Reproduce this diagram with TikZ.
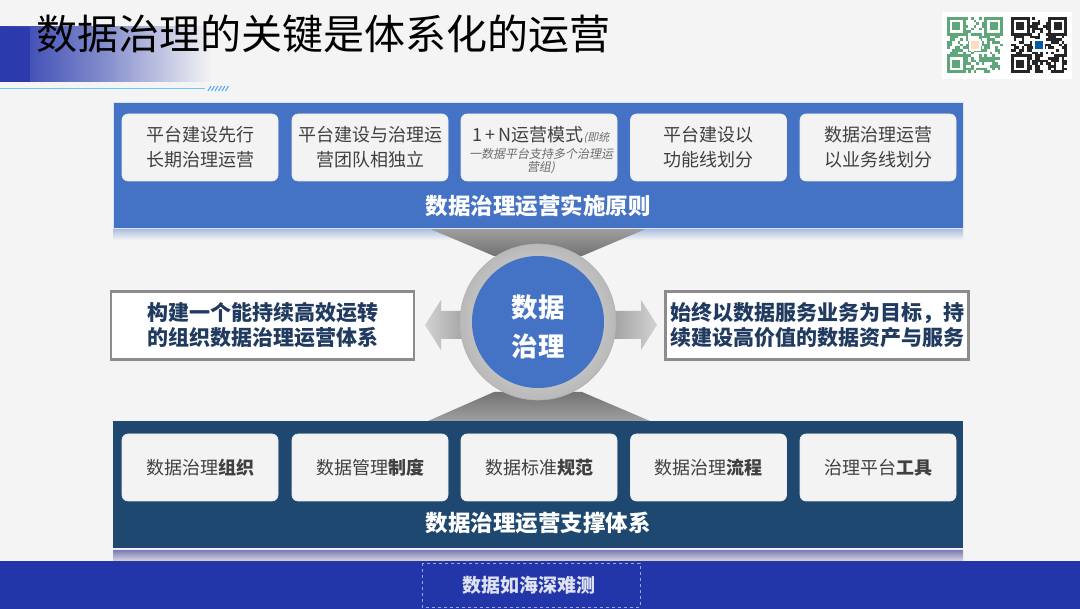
\documentclass[tikz,border=0pt]{standalone}
\usepackage{fontspec}
\setmainfont{Noto Sans CJK SC}
\newfontfamily\cjkit[FakeSlant=0.2]{Noto Sans CJK SC}
\usetikzlibrary{shapes.arrows}
\definecolor{bg}{HTML}{F4F4F4}
\definecolor{pblue}{HTML}{4472C4}
\definecolor{pnavy}{HTML}{1F4870}
\definecolor{boxf}{HTML}{F3F3F3}
\definecolor{tgray}{HTML}{404040}
\definecolor{tnavy}{HTML}{213A5F}
\definecolor{fblue}{HTML}{2236A9}
\definecolor{tblue}{HTML}{2B3BAE}
\definecolor{qrg}{HTML}{5FA67A}
\tikzset{
  ibox/.style={draw=white!85!gray, line width=0.6pt, fill=boxf, rounded corners=6pt, minimum width=156pt, minimum height=67pt, inner sep=0pt, align=center, text=tgray, font=\fontsize{18}{25}\selectfont},
  plabel/.style={text=white, font=\fontsize{22.5}{24}\selectfont\bfseries, inner sep=0pt},
  sidebox/.style={draw=gray!90, line width=2.5pt, fill=white, minimum width=303pt, minimum height=68pt, align=center, text=tnavy, font=\fontsize{21}{25}\selectfont\bfseries, inner sep=0pt},
}
\newcommand{\qrcode}[4]{% x, y, color, seed
  \pgfmathsetseed{#4}
  \foreach \i in {0,...,20}{\foreach \j in {0,...,20}{
    \pgfmathrandominteger{\r}{0}{1}
    \ifnum\r=1 \fill[#3] (#1+\i*2.66, #2+\j*2.66) rectangle ++(2.66,2.66);\fi
  }}
  \foreach \a/\b in {0/0,14/0,0/14}{
    \fill[white] (#1+\a*2.66-0.5, #2+\b*2.66-0.5) rectangle ++(7*2.66+1,7*2.66+1);
    \fill[#3] (#1+\a*2.66, #2+\b*2.66) rectangle ++(7*2.66,7*2.66);
    \fill[white] (#1+\a*2.66+2.66, #2+\b*2.66+2.66) rectangle ++(5*2.66,5*2.66);
    \fill[#3] (#1+\a*2.66+2*2.66, #2+\b*2.66+2*2.66) rectangle ++(3*2.66,3*2.66);
  }
}
\begin{document}
\begin{tikzpicture}[x=1pt,y=-1pt]
\fill[bg] (0,0) rectangle (1080,609);
\useasboundingbox (0,0) rectangle (1080,609);
% title bar
\shade[left color=tblue, right color=bg, middle color=tblue!55!bg] (0,27) rectangle (212,82);
\fill[tblue] (0,27) rectangle (30,82);
\draw[color=blue!35!cyan!60!white, line width=1.5pt] (0,88.5) -- (205,88.5);
\foreach \k in {0,...,5}{\draw[blue!50!cyan!70!white, line width=1pt] (208+\k*3.5,91) -- (211+\k*3.5,86);}
\node[anchor=west, inner sep=0pt, font=\fontsize{41}{44}\selectfont, text=black] (title) at (36,34) {数据治理的关键是体系化的运营};
% QR codes
\fill[white] (942,12) rectangle (1072,79);
\qrcode{947}{17}{qrg}{11}
\qrcode{1011}{17}{black!85}{23}
\fill[white] (969,39) rectangle ++(12,12);
\fill[orange!25] (971,41) rectangle ++(8,8);
\fill[white] (1033,39) rectangle ++(12,12);
\fill[teal!70!blue] (1035,41) rectangle ++(8,8);
% top panel shadow
\shade[top color=pblue!45!bg, bottom color=bg] (113,228) rectangle (963,240);
% hourglass shapes
\shade[top color=gray!75, bottom color=gray!90!black] (428,228) -- (648,228) -- (582,256) -- (494,256) -- cycle;
\shade[top color=gray!90!black, bottom color=gray!75] (494,392) -- (582,392) -- (650,421) -- (428,421) -- cycle;
% top panel
\fill[pblue] (113,102) rectangle (963,228);
\draw[white!80!pblue, line width=0.8pt] (113,102) rectangle (963,228);
\node[ibox] (p1) at (200,147.5) {平台建设先行\\长期治理运营};
\node[ibox] (p2) at (370,147.5) {平台建设与治理运\\营团队相独立};
\node[ibox] (p3) at (539,147.5) {};
\node[inner sep=0pt, align=center, text=tgray] (p3t) at (541,150) {{\fontsize{18}{20}\selectfont 1\,+\,N运营模式}{\cjkit\fontsize{11}{13}\selectfont\color{gray!85!black}(即统}\\[3pt]{\cjkit\fontsize{12}{16}\selectfont\color{gray!85!black}一数据平台支持多个治理运}\\[1pt]{\cjkit\fontsize{12}{16}\selectfont\color{gray!85!black}营组)}};
\node[ibox] (p4) at (708.5,147.5) {平台建设以\\功能线划分};
\node[ibox] (p5) at (878,147.5) {数据治理运营\\以业务线划分};
\node[plabel] (ptitle) at (538,206) {数据治理运营实施原则};
% side arrows
\shade[left color=gray!35, right color=gray!75] (425,325) -- (441,300) -- (441,311) -- (468,311) -- (468,339) -- (441,339) -- (441,350) -- cycle;
\shade[left color=gray!75, right color=gray!35] (657,325) -- (641,300) -- (641,311) -- (610,311) -- (610,339) -- (641,339) -- (641,350) -- cycle;
% circle
\shade[inner color=gray!15, outer color=gray!55] (538,322) circle (78);
\draw[gray!60, line width=0.6pt] (538,322) circle (78);
\fill[pblue] (538,322) circle (66);
\node[text=white, align=center, font=\fontsize{26.5}{39}\selectfont\bfseries, inner sep=0pt] (core) at (538,327) {数据\\治理};
% side boxes
\node[sidebox] (lbox) at (262.5,325.5) {构建一个能持续高效运转\\的组织数据治理运营体系};
\node[sidebox] (rbox) at (817,325.5) {始终以数据服务业务为目标，持\\续建设高价值的数据资产与服务};
% bottom panel
\fill[pnavy] (113,421) rectangle (963,548);
\shade[top color=gray!70!blue!80!white, bottom color=gray!25] (113,550) rectangle (963,562);
\draw[white!85!gray, line width=0.8pt] (113,549) -- (963,549);
\node[ibox] (b1) at (200,467.5) {数据治理\textbf{组织}};
\node[ibox] (b2) at (370,467.5) {数据管理\textbf{制度}};
\node[ibox] (b3) at (539,467.5) {数据标准\textbf{规范}};
\node[ibox] (b4) at (708.5,467.5) {数据治理\textbf{流程}};
\node[ibox] (b5) at (878,467.5) {治理平台\textbf{工具}};
\node[plabel] (btitle) at (538,523) {数据治理运营支撑体系};
% footer
\fill[fblue] (0,561) rectangle (1080,609);
\draw[white!55!fblue, dashed, line width=0.7pt] (422,563) rectangle (640,607);
\node[text=white!85!fblue, font=\fontsize{19}{20}\selectfont\bfseries, inner sep=0pt] (foot) at (529,585) {数据如海深难测};
\end{tikzpicture}
\end{document}
